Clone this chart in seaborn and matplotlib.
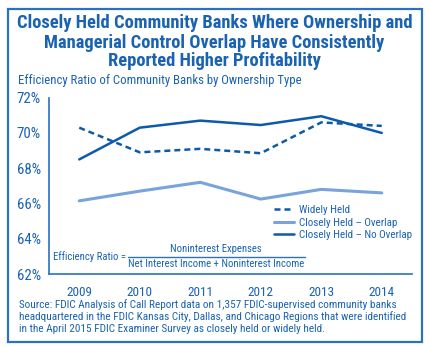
import matplotlib
matplotlib.use("Agg")
import matplotlib.pyplot as plt
from matplotlib import font_manager
import seaborn as sns
import pandas as pd

years = [2009, 2010, 2011, 2012, 2013, 2014]
widely_held = [70.3, 68.9, 69.1, 68.85, 70.6, 70.4]
closely_overlap = [66.15, 66.7, 67.2, 66.25, 66.8, 66.6]
closely_no_overlap = [68.5, 70.3, 70.7, 70.45, 70.95, 70.0]
series_names = ["Widely Held", "Closely Held \u2013 Overlap", "Closely Held \u2013 No Overlap"]
y_ticks = [62, 64, 66, 68, 70, 72]
title_lines = ["Closely Held Community Banks Where Ownership and",
               "Managerial Control Overlap Have Consistently",
               "Reported Higher Profitability"]
subtitle = "Efficiency Ratio of Community Banks by Ownership Type"
source_lines = ["Source: FDIC Analysis of Call Report data on 1,357 FDIC-supervised community banks",
                "headquartered in the FDIC Kansas City, Dallas, and Chicago Regions that were identified",
                "in the April 2015 FDIC Examiner Survey as closely held or widely held."]

df = pd.DataFrame({
    "Year": years * 3,
    "Ratio": widely_held + closely_overlap + closely_no_overlap,
    "Series": [series_names[0]] * 6 + [series_names[1]] * 6 + [series_names[2]] * 6,
})

sns.set_theme(style="white")
fl = font_manager.fontManager.ttflist
names = {f.name for f in fl}
def has_bold(n):
    return any(f.name == n and isinstance(f.weight, int) and f.weight >= 600 for f in fl) or \
           any(f.name == n and f.weight == "bold" for f in fl)
cands = ["Roboto Condensed", "Archivo Narrow", "IBM Plex Sans Condensed", "Fira Sans Condensed", "DejaVu Sans"]
fam = next(c for c in cands if c in names or c == "DejaVu Sans")
bfam = next(c for c in cands if (c in names and has_bold(c)) or c == "DejaVu Sans")
plt.rcParams["font.family"] = [fam, "DejaVu Sans"]

TXT = "#1a62b2"
DARK = "#0d5aab"
LIGHT = "#78a3db"
AX = "#2a72c0"

W, H = 429, 347
fig = plt.figure(figsize=(W / 100, H / 100), dpi=100)
renderer = fig.canvas.get_renderer()
def fx(px): return px / W
def fy(py): return 1 - py / H
def fit_size(s, width_px, family, weight="normal"):
    t = fig.text(0, 0, s, fontsize=10, family=[family, "DejaVu Sans"], fontweight=weight)
    w = t.get_window_extent(renderer).width
    t.remove()
    return 10 * width_px / w

ax = fig.add_axes([fx(49), fy(274), fx(412) - fx(49), fy(97.7) - fy(274)])

palette = {series_names[0]: DARK, series_names[1]: LIGHT, series_names[2]: DARK}
dashes = {series_names[0]: (2.4, 1.6), series_names[1]: "", series_names[2]: ""}
sns.lineplot(data=df, x="Year", y="Ratio", hue="Series", style="Series",
             palette=palette, dashes=dashes, linewidth=1.8, ax=ax, legend=True)
for line in ax.get_lines():
    if line.get_color() == LIGHT or line.get_color() == matplotlib.colors.to_rgba(LIGHT):
        line.set_linewidth(2.2)

tick_fs = fit_size("2009", 26, fam)
ytick_fs = fit_size("72%", 24, fam)
ax.set_xlim(2008.5, 2014.5)
ax.set_ylim(62, 72)
ax.set_yticks(y_ticks)
ax.set_yticklabels([f"{v}%" for v in y_ticks])
ax.set_xticks(years)
ax.set_xticklabels([str(y) for y in years])
ax.set_xticks([y - 0.5 for y in years] + [2014.5], minor=True)
ax.tick_params(axis="x", which="major", length=0, pad=9, labelsize=tick_fs, labelcolor=TXT)
ax.tick_params(axis="x", which="minor", length=4, width=1, color=AX, direction="out")
ax.tick_params(axis="y", which="major", length=4, width=1, color=AX, direction="out",
               pad=2, labelsize=ytick_fs, labelcolor=TXT)
ax.set_xlabel("")
ax.set_ylabel("")
for s in ["top", "right"]:
    ax.spines[s].set_visible(False)
for s in ["left", "bottom"]:
    ax.spines[s].set_color(AX)
    ax.spines[s].set_linewidth(1.2)

leg_fs = fit_size(series_names[2], 113, fam)
em_px = leg_fs * 100 / 72
handles, labels = ax.get_legend_handles_labels()
for h in handles:
    if h.get_color() in (LIGHT,) or matplotlib.colors.to_hex(h.get_color()) == LIGHT:
        h.set_linewidth(2.2)
leg = ax.legend(handles, labels, loc="center left",
                bbox_to_anchor=(fx(274), fy(222.5)), bbox_transform=fig.transFigure,
                frameon=False, fontsize=leg_fs, handlelength=20 / em_px,
                handletextpad=5 / em_px, labelspacing=0.25, borderpad=0, borderaxespad=0)
for t in leg.get_texts():
    t.set_color(TXT)

# formula
fs_num = fit_size("Net Interest Income + Noninterest Income", 174, fam)
fig.text(fx(53), fy(259.5), "Efficiency Ratio =", fontsize=fs_num, color=TXT,
         va="baseline", ha="left")
fig.text(fx(216), fy(252.5), "Noninterest Expenses", fontsize=fs_num, color=TXT,
         va="baseline", ha="center")
fig.text(fx(216), fy(267), "Net Interest Income + Noninterest Income", fontsize=fs_num,
         color=TXT, va="baseline", ha="center")
fig.add_artist(plt.Line2D([fx(128), fx(305)], [fy(256.5), fy(256.5)], color=AX, lw=1))

# title
tfs = fit_size(title_lines[0], 395, bfam, "bold")
for s, b in zip(title_lines, [28.5, 47.5, 66.5]):
    fig.text(fx(214.5), fy(b), s, ha="center", va="baseline", fontsize=tfs,
             fontweight="bold", color=TXT, family=[bfam, "DejaVu Sans"])
sfs = fit_size(subtitle, 282, fam)
fig.text(fx(18), fy(84), subtitle, ha="left", va="baseline", fontsize=sfs, color=TXT)
srcfs = fit_size(source_lines[0], 377, fam)
for s, b in zip(source_lines, [307.7, 320, 332.3]):
    fig.text(fx(19), fy(b), s, ha="left", va="baseline", fontsize=srcfs, color=TXT)

# border
fig.patches.append(plt.Rectangle((fx(7.5), fy(341.5)), fx(421.5) - fx(7.5), fy(9) - fy(341.5),
                                 transform=fig.transFigure, fill=False, edgecolor=AX,
                                 linewidth=1.6))

fig.savefig("out.png", dpi=100)
